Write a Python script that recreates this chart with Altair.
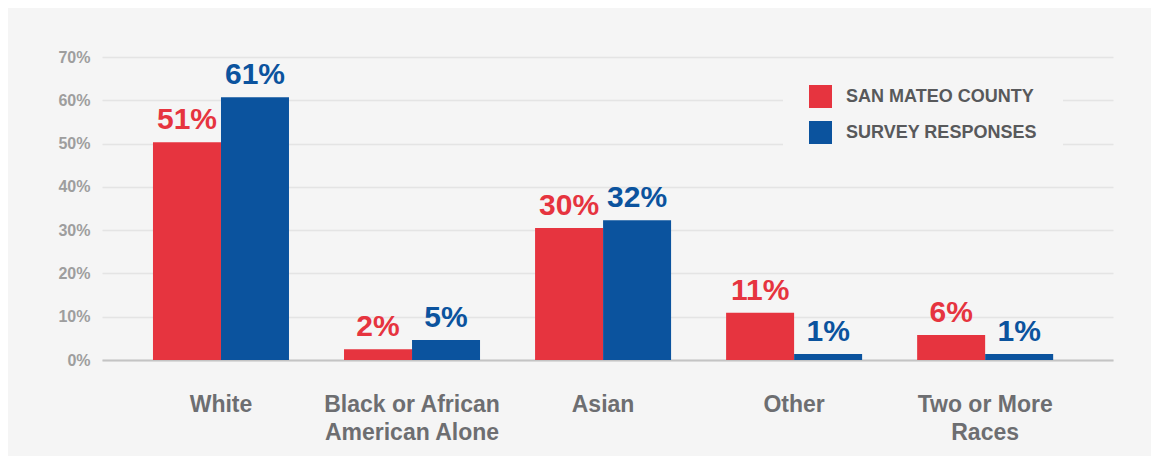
import altair as alt
import pandas as pd

categories = ["White", "Black or African|American Alone", "Asian", "Other", "Two or More|Races"]
series = ["SAN MATEO COUNTY", "SURVEY RESPONSES"]
county_values = [50.3, 2.5, 30.5, 10.9, 5.8]
survey_values = [60.7, 4.6, 32.3, 1.4, 1.4]
county_labels = ["51%", "2%", "30%", "11%", "6%"]
survey_labels = ["61%", "5%", "32%", "1%", "1%"]
y_ticks = [0, 10, 20, 30, 40, 50, 60, 70]
colors = ["#E6343F", "#0B539E"]

rows = []
for c, v, l in zip(categories, county_values, county_labels):
    rows.append({"category": c, "series": series[0], "value": v, "label": l})
for c, v, l in zip(categories, survey_values, survey_labels):
    rows.append({"category": c, "series": series[1], "value": v, "label": l})
df = pd.DataFrame(rows)

FONT = "Liberation Sans"

x = alt.X(
    "category:N",
    sort=categories,
    scale=alt.Scale(paddingInner=0.288, paddingOuter=0.29, align=0.46),
    axis=alt.Axis(
        title=None,
        labelAngle=0,
        labelExpr="split(datum.label, '|')",
        labelFont=FONT,
        labelFontSize=23,
        labelFontWeight="bold",
        labelColor="#6D6E71",
        labelLineHeight=28,
        labelPadding=33,
        ticks=False,
        domain=True,
        domainColor="#C4C4C4",
        domainWidth=2,
        grid=False,
    ),
)
y = alt.Y(
    "value:Q",
    scale=alt.Scale(domain=[0, 70], nice=False),
    axis=alt.Axis(
        title=None,
        values=y_ticks,
        labelExpr="datum.value + '%'",
        labelFont=FONT,
        labelFontSize=16,
        labelFontWeight="bold",
        labelColor="#9E9E9E",
        labelPadding=12,
        ticks=False,
        domain=False,
        grid=True,
        gridColor="#E4E4E4",
        gridWidth=1.5,
    ),
)
xoff = alt.XOffset("series:N", sort=series, scale=alt.Scale(paddingInner=0, paddingOuter=0))
color = alt.Color(
    "series:N",
    sort=series,
    scale=alt.Scale(domain=series, range=colors),
    legend=alt.Legend(
        title=None,
        orient="none",
        legendX=681,
        legendY=2,
        symbolType="square",
        symbolSize=529,
        symbolStrokeWidth=0,
        symbolOpacity=1,
        rowPadding=13,
        labelOffset=14,
        labelFont=FONT,
        labelFontSize=18,
        labelFontWeight="bold",
        labelColor="#58595B",
        labelLimit=400,
        padding=26,
        fillColor="#F5F5F5",
    ),
)

bars = alt.Chart(df).mark_bar(size=68).encode(x=x, xOffset=xoff, y=y, color=color)
texts = alt.Chart(df).mark_text(
    font=FONT, fontSize=30, fontWeight="bold", baseline="alphabetic", dy=-13
).encode(
    x=x,
    xOffset=xoff,
    y=y,
    text="label:N",
    color=alt.Color("series:N", sort=series, scale=alt.Scale(domain=series, range=colors), legend=None),
)

chart = (
    alt.layer(bars, texts)
    .properties(
        width=1011,
        height=303,
        autosize=alt.AutoSizeParams(type="none"),
        padding={"left": 94, "top": 49, "right": 38, "bottom": 96},
        background="#F5F5F5",
    )
    .configure_view(stroke=None)
)

chart.save("out.html", embed_options={"renderer": "svg", "actions": False})
